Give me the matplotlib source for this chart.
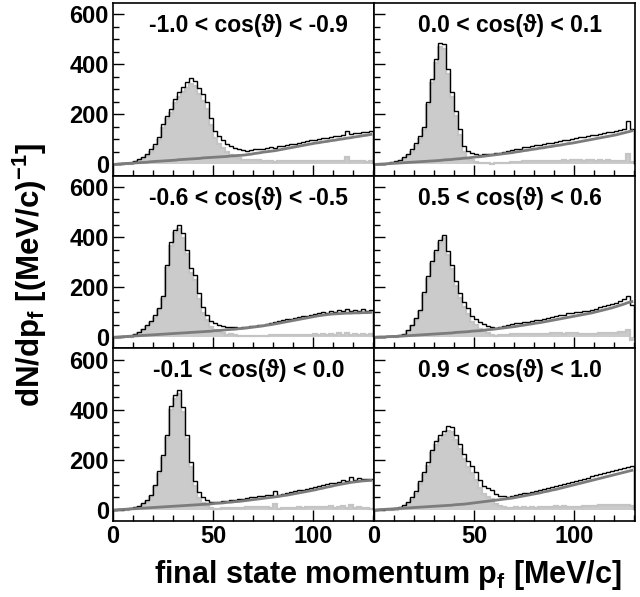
import numpy as np
import matplotlib
matplotlib.use("Agg")
import matplotlib.pyplot as plt
from matplotlib.ticker import MultipleLocator

plt.rcParams['font.family'] = ['Liberation Sans', 'DejaVu Sans']
plt.rcParams['font.weight'] = 'bold'
plt.rcParams['mathtext.fontset'] = 'custom'
plt.rcParams['mathtext.rm'] = 'Liberation Sans:bold'
plt.rcParams['mathtext.default'] = 'rm'

# 2 MeV/c bins from 0 to 130
edges = np.arange(0, 131, 2)
centers = 0.5 * (edges[:-1] + edges[1:])

titles = ["-1.0 < cos(ϑ) < -0.9", "0.0 < cos(ϑ) < 0.1",
          "-0.6 < cos(ϑ) < -0.5", "0.5 < cos(ϑ) < 0.6",
          "-0.1 < cos(ϑ) < 0.0", "0.9 < cos(ϑ) < 1.0"]

# measured spectra (counts per bin)
total_1 = [2, 3, 4, 5, 7, 15, 22, 30, 42, 60, 80, 110, 160,
           195, 222, 262, 290, 310, 328, 345, 335, 305, 280, 250, 185, 135,
           112, 97, 82, 72, 66, 60, 56, 55, 58, 60, 62, 63, 66,
           68, 66, 72, 74, 76, 80, 82, 86, 89, 92, 96, 98, 100,
           104, 106, 108, 112, 114, 116, 134, 120, 124, 126, 130, 128, 134]
total_2 = [1, 2, 3, 4, 8, 12, 18, 28, 40, 60, 85, 112, 150,
           250, 340, 420, 485, 480, 380, 290, 215, 140, 75, 52, 44, 40,
           38, 40, 42, 40, 44, 46, 50, 52, 56, 60, 62, 68, 70,
           72, 76, 78, 80, 84, 86, 90, 92, 96, 98, 102, 104, 110,
           108, 114, 116, 118, 122, 124, 128, 130, 132, 136, 140, 172, 142]
total_3 = [1, 2, 3, 4, 6, 12, 22, 34, 48, 66, 88, 118, 165,
           290, 380, 430, 450, 415, 350, 275, 250, 175, 120, 90, 66, 55,
           48, 44, 40, 42, 40, 38, 40, 42, 44, 45, 48, 50, 54,
           58, 62, 64, 68, 72, 74, 78, 80, 84, 86, 90, 94, 96,
           100, 98, 104, 102, 110, 104, 112, 106, 110, 104, 112, 106, 110]
total_4 = [1, 2, 2, 3, 3, 5, 8, 14, 30, 50, 75, 110, 180,
           245, 305, 350, 390, 410, 345, 290, 225, 175, 140, 115, 85, 72,
           60, 52, 46, 40, 38, 42, 46, 48, 52, 56, 58, 62, 62,
           66, 68, 70, 72, 76, 82, 86, 88, 90, 96, 98, 100, 102,
           104, 106, 110, 114, 120, 126, 130, 132, 138, 146, 152, 166, 130]
total_5 = [1, 2, 3, 4, 6, 10, 16, 26, 40, 60, 100, 155, 220,
           300, 415, 460, 480, 410, 300, 190, 115, 70, 50, 40, 32, 30,
           32, 34, 36, 38, 40, 42, 44, 48, 50, 52, 54, 56, 58,
           58, 76, 58, 64, 68, 70, 74, 78, 80, 84, 88, 90, 96,
           98, 104, 108, 106, 112, 118, 116, 130, 120, 126, 122, 124, 122]
total_6 = [1, 2, 2, 3, 4, 6, 10, 18, 32, 50, 75, 115, 150,
           190, 240, 275, 300, 315, 335, 330, 300, 265, 225, 195, 175, 150,
           120, 95, 86, 80, 62, 56, 54, 52, 56, 60, 62, 66, 68,
           72, 74, 78, 82, 86, 92, 96, 98, 104, 106, 110, 114, 118,
           124, 128, 134, 138, 144, 148, 152, 156, 160, 164, 168, 172, 174]

# background estimate (counts per bin)
bg_1 = [0, 2, 3, 4, 5, 6, 7, 8, 9, 11, 12, 13, 14,
        15, 16, 17, 19, 20, 21, 22, 23, 24, 26, 27, 28, 29,
        30, 31, 32, 34, 35, 36, 37, 39, 41, 44, 46, 49, 51,
        53, 55, 58, 61, 64, 67, 70, 73, 76, 79, 82, 85, 87,
        90, 92, 95, 97, 100, 102, 105, 107, 110, 112, 115, 117, 120]
bg_2 = [0, 1, 2, 3, 4, 5, 6, 7, 8, 9, 10, 11, 12,
        13, 14, 15, 16, 18, 19, 20, 22, 23, 25, 26, 28, 30,
        31, 33, 35, 37, 39, 41, 43, 45, 47, 50, 52, 55, 57,
        60, 62, 65, 67, 70, 72, 75, 77, 80, 83, 85, 88, 91,
        94, 97, 100, 103, 106, 109, 112, 115, 118, 122, 126, 130, 134]
bg_3 = [0, 1, 2, 3, 4, 5, 6, 7, 8, 9, 10, 11, 12,
        13, 14, 15, 16, 17, 18, 19, 20, 21, 22, 23, 24, 26,
        27, 28, 30, 31, 32, 34, 35, 37, 39, 41, 43, 45, 48,
        50, 53, 56, 59, 62, 65, 68, 71, 74, 77, 80, 83, 86,
        88, 90, 92, 93, 94, 95, 96, 96, 97, 97, 98, 98, 99]
bg_4 = [0, 1, 1, 2, 3, 3, 4, 5, 6, 7, 8, 9, 10,
        11, 12, 13, 14, 15, 16, 17, 19, 20, 21, 22, 24, 25,
        26, 28, 30, 31, 33, 35, 37, 39, 41, 43, 46, 48, 51,
        53, 56, 58, 61, 64, 67, 70, 73, 76, 79, 82, 85, 88,
        91, 94, 97, 101, 105, 109, 113, 117, 122, 127, 132, 138, 142]
bg_5 = [0, 1, 2, 3, 4, 5, 6, 7, 8, 9, 10, 11, 12,
        13, 14, 15, 16, 17, 18, 19, 20, 21, 22, 23, 24, 26,
        27, 28, 30, 31, 33, 34, 36, 38, 40, 42, 44, 46, 48,
        50, 52, 54, 57, 59, 62, 65, 68, 71, 74, 77, 80, 84,
        87, 91, 94, 98, 101, 104, 107, 110, 112, 114, 116, 117, 118]
bg_6 = [0, 1, 2, 3, 4, 5, 6, 7, 8, 9, 10, 11, 12,
        13, 14, 15, 16, 17, 18, 19, 21, 22, 23, 25, 27, 29,
        31, 33, 35, 37, 39, 41, 43, 45, 47, 50, 53, 56, 59,
        62, 65, 68, 72, 75, 79, 82, 86, 90, 94, 98, 102, 106,
        110, 114, 118, 122, 126, 130, 134, 138, 142, 146, 150, 154, 158]

totals = [total_1, total_2, total_3, total_4, total_5, total_6]
backgrounds = [bg_1, bg_2, bg_3, bg_4, bg_5, bg_6]

fig, axes = plt.subplots(3, 2, figsize=(6.4, 5.97), dpi=100, sharex=True, sharey=True)
fig.subplots_adjust(left=0.1766, right=0.992, top=0.995, bottom=0.127,
                    wspace=0, hspace=0)

for i, ax in enumerate(axes.flat):
    tot = np.array(totals[i], dtype=float)
    bg = np.array(backgrounds[i], dtype=float)
    sig = tot - bg
    ax.stairs(sig, edges, fill=True, color='#cbcbcb', lw=0)
    ax.stairs(sig, edges, color='#c4c4c4', lw=1.6)
    ax.plot(centers, bg, color='#7c7c7c', lw=2)
    ax.stairs(tot, edges, color='black', lw=1)
    ax.text(0.52, 0.87, titles[i], transform=ax.transAxes, ha='center',
            va='center', fontsize=16.5, fontweight='bold')

    ax.set_xlim(0, 130.5)
    ax.set_ylim(-45, 645)
    ax.xaxis.set_major_locator(MultipleLocator(50))
    ax.xaxis.set_minor_locator(MultipleLocator(10))
    ax.yaxis.set_major_locator(MultipleLocator(200))
    ax.yaxis.set_minor_locator(MultipleLocator(50))
    ax.tick_params(which='both', direction='in', top=False, right=False,
                   labelsize=17, width=1, pad=3)
    ax.tick_params(which='major', length=8)
    ax.tick_params(which='minor', length=4)
    for s in ax.spines.values():
        s.set_linewidth(1.2)
    for lab in ax.get_xticklabels() + ax.get_yticklabels():
        lab.set_fontweight('bold')

fig.text(0.972, 0.037, "final state momentum p$_{f}$ [MeV/c]", ha='right',
         va='center', fontsize=22, fontweight='bold')
fig.text(0.047, 0.54, "dN/dp$_{f}$ [(MeV/c)$^{-1}$]", ha='center', va='center',
         rotation=90, fontsize=22.5, fontweight='bold')

fig.savefig("out.png", dpi=100)
